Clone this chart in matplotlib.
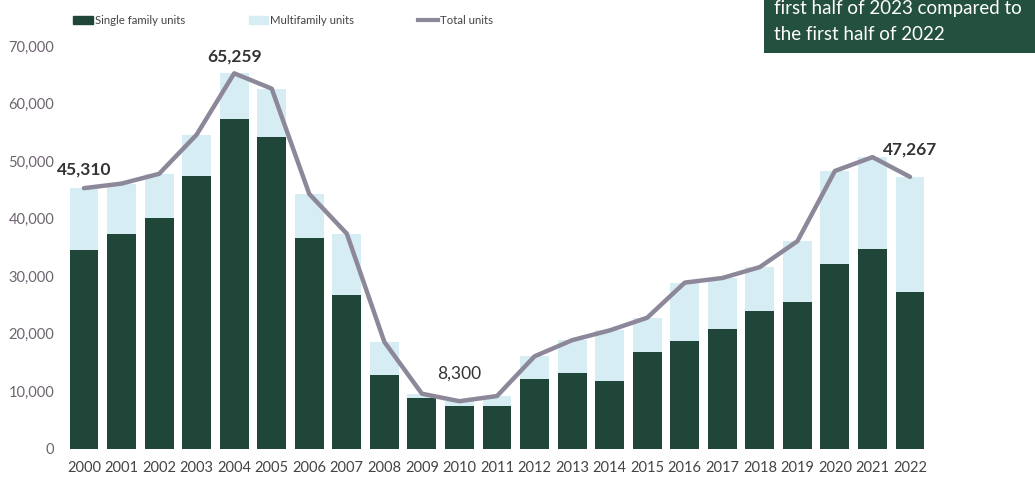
import matplotlib
matplotlib.use("Agg")
import matplotlib.pyplot as plt
from matplotlib.patches import Rectangle
from matplotlib.lines import Line2D
from matplotlib.ticker import FuncFormatter

plt.rcParams['font.family'] = ['Lato', 'DejaVu Sans']

years = [str(y) for y in range(2000, 2023)]
total_units = [45310, 46100, 47800, 54600, 65259, 62600, 44300, 37400, 18600, 9600,
               8300, 9200, 16100, 18900, 20600, 22800, 28900, 29700, 31600, 36100,
               48300, 50700, 47267]
single_family = [34500, 37400, 40200, 47400, 57300, 54200, 36600, 26700, 12800, 8800,
                 7400, 7500, 12100, 13200, 11800, 16900, 18700, 20800, 24000, 25500,
                 32100, 34700, 27200]
multifamily = [t - s for t, s in zip(total_units, single_family)]

# labelled points: index -> (bold, vertical offset in points)
callouts = {0: (True, 8), 4: (True, 6), 10: (False, 14), 22: (True, 14)}

dark_green = '#1f4638'
light_blue = '#d6eef3'
line_gray = '#8d8899'
tick_color = '#6e6470'

fig = plt.figure(figsize=(10.35, 4.78), dpi=100)
ax = fig.add_axes([0.063, 0.0607, 0.8344, 0.843])

x = range(len(years))
ax.bar(x, single_family, width=0.77, color=dark_green, zorder=2)
ax.bar(x, multifamily, width=0.77, bottom=single_family, color=light_blue, zorder=2)
ax.plot(x, total_units, color=line_gray, lw=3.2, zorder=3, solid_capstyle='round')

for i, (bold, dy) in callouts.items():
    ax.annotate(f"{total_units[i]:,}", (i, total_units[i]), xytext=(0, dy),
                textcoords='offset points', ha='center', va='bottom',
                fontsize=12.5, fontweight='bold' if bold else 'normal', color='#333333')

ax.set_xlim(-0.5, 22.5)
ax.set_ylim(0, 70000)
ax.set_xticks(list(x))
ax.set_xticklabels(years)
ax.set_yticks(range(0, 70001, 10000))
ax.yaxis.set_major_formatter(FuncFormatter(lambda v, p: f"{int(v):,}"))
ax.tick_params(axis='y', length=0, pad=8, labelsize=10.5, labelcolor=tick_color)
ax.tick_params(axis='x', length=0, pad=9, labelsize=10.5, labelcolor='#444444')
for s in ax.spines.values():
    s.set_visible(False)

# legend across the top
handles = [Rectangle((0, 0), 1, 1, color=dark_green),
           Rectangle((0, 0), 1, 1, color=light_blue),
           Line2D([0], [0], color=line_gray, lw=3)]
fig.legend(handles, ['Single family units', 'Multifamily units', 'Total units'],
           loc='center left', bbox_to_anchor=(0.063, 0.958), ncol=3, frameon=False,
           fontsize=8.2, labelcolor='#444444', handlelength=1.7, handleheight=0.7,
           handletextpad=0.2, columnspacing=5.6, borderpad=0.2)

# dark note box in the top-right corner
box = Rectangle((0.738, 0.89), 0.27, 0.12, transform=fig.transFigure,
                facecolor='#24503f', edgecolor='none', zorder=5)
fig.patches.append(box)
fig.text(0.748, 0.982, 'first half of 2023 compared to', fontsize=13.5, color='white',
         va='center', ha='left', zorder=6)
fig.text(0.748, 0.928, 'the first half of 2022', fontsize=13.5, color='white',
         va='center', ha='left', zorder=6)

fig.savefig('out.png', dpi=100)
